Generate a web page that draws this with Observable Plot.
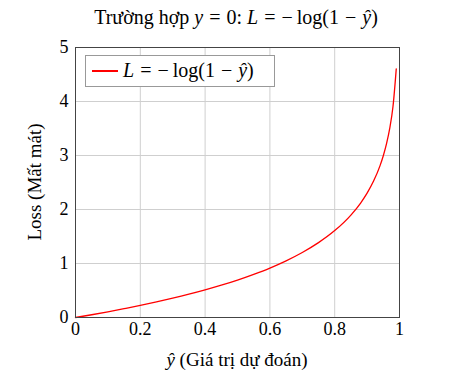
<!DOCTYPE html>
<html>
<head>
<meta charset="utf-8">
<script src="https://cdn.jsdelivr.net/npm/d3@7"></script>
<script src="https://cdn.jsdelivr.net/npm/@observablehq/plot@0.6"></script>
<style>
  body { margin: 0; background: #fff; font-family: "Liberation Serif", "DejaVu Serif", serif; }
  #wrap { position: relative; width: 462px; height: 387px; }
  .t { position: absolute; white-space: nowrap; color: #000; font-size: 19px; font-family: "Liberation Serif", serif; }
  .m { font-size: 20px; }
  i { font-style: italic; }
  .op { margin: 0 6px; }
  .um { margin: 0 4px 0 0; }
  svg text { font-family: "Liberation Serif", serif !important; }
</style>
</head>
<body>
<div id="wrap">
  <div id="chart" style="position:absolute;left:0;top:36px;"></div>
  <div class="t m" id="title" style="top:6px;left:236px;transform:translateX(-50%);">Trường hợp <i>y</i><span class="op">=</span>0: <i>L</i><span class="op">=</span><span class="um">−</span>log(1<span class="op">−</span><i>ŷ</i>)</div>
  <div class="t" id="xlabel" style="top:349px;left:237px;transform:translateX(-50%);"><i>ŷ</i> (Giá trị dự đoán)</div>
  <div class="t" id="ylabel" style="top:182px;left:35px;transform:translate(-50%,-50%) rotate(-90deg);">Loss (Mất mát)</div>
  <div id="legend" style="position:absolute;left:85px;top:55px;width:190px;height:32px;border:1px solid #999;background:#fff;box-sizing:border-box;">
    <div style="position:absolute;left:6px;top:14px;width:26px;height:1.5px;background:#ff0000;"></div>
    <div class="t m" style="left:37px;top:3px;"><i>L</i><span class="op">=</span><span class="um">−</span>log(1<span class="op">−</span><i>ŷ</i>)</div>
  </div>
</div>
<script>
// Points
const yhat = [0, 0.05, 0.1, 0.15, 0.2, 0.25, 0.3, 0.35, 0.4, 0.45, 0.5, 0.55, 0.6, 0.65, 0.7, 0.75, 0.8, 0.85, 0.88, 0.9, 0.92, 0.94, 0.95, 0.96, 0.97, 0.98, 0.99];
const loss = [0, 0.051, 0.105, 0.163, 0.223, 0.288, 0.357, 0.431, 0.511, 0.598, 0.693, 0.799, 0.916, 1.050, 1.204, 1.386, 1.609, 1.897, 2.120, 2.303, 2.526, 2.813, 2.996, 3.219, 3.507, 3.912, 4.605];
const xTicks = [0, 0.2, 0.4, 0.6, 0.8, 1];
const xTickLabels = ["0", "0.2", "0.4", "0.6", "0.8", "1"];
const yTicks = [0, 1, 2, 3, 4, 5];
const yTickLabels = ["0", "1", "2", "3", "4", "5"];

const data = yhat.map((x, i) => ({x, y: loss[i]}));
const serif = '"Liberation Serif", serif';

const plot = Plot.plot({
  width: 462,
  height: 351,
  marginTop: 11,
  marginBottom: 70,
  marginLeft: 75,
  marginRight: 63,
  style: { fontFamily: serif, fontSize: "18px", color: "#000", background: "transparent" },
  x: { domain: [0, 1], label: null },
  y: { domain: [0, 5], label: null },
  marks: [
    Plot.gridX(xTicks, { stroke: "#cfcfcf", strokeOpacity: 1, strokeWidth: 1 }),
    Plot.gridY(yTicks, { stroke: "#cfcfcf", strokeOpacity: 1, strokeWidth: 1 }),
    Plot.axisX(xTicks, { tickSize: 0, tickPadding: 5, fontSize: 18, fontFamily: serif, fill: "#000", label: null, tickFormat: (d) => xTickLabels[xTicks.indexOf(d)] }),
    Plot.axisY(yTicks, { tickSize: 0, tickPadding: 7, fontSize: 18, fontFamily: serif, fill: "#000", label: null, tickFormat: (d) => yTickLabels[yTicks.indexOf(d)] }),
    Plot.line(data, { x: "x", y: "y", stroke: "#ff0000", strokeWidth: 1.3, curve: "monotone-x" }),
    Plot.frame({ stroke: "#444", strokeWidth: 1 })
  ]
});
document.getElementById("chart").appendChild(plot);
</script>
</body>
</html>
